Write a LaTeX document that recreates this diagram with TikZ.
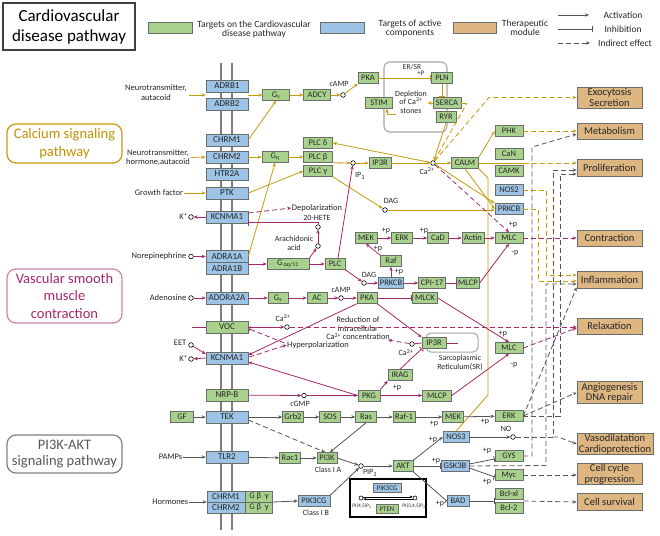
\documentclass[tikz,border=0pt]{standalone}
\usepackage{fontspec}
\setmainfont{Carlito}
\usetikzlibrary{arrows.meta,calc}
\definecolor{gfill}{RGB}{169,209,142}
\definecolor{bfill}{RGB}{157,195,230}
\definecolor{tfill}{RGB}{221,182,130}
\definecolor{bord}{RGB}{105,110,105}
\definecolor{gold}{RGB}{200,155,10}
\definecolor{goldt}{RGB}{195,145,0}
\definecolor{purp}{RGB}{165,40,105}
\definecolor{purl}{RGB}{205,130,180}
\definecolor{gline}{RGB}{85,85,85}
\definecolor{memb}{RGB}{125,125,125}
\tikzset{
  bx/.style={draw=bord, line width=0.6pt, minimum height=11pt, inner xsep=1.5pt, inner ysep=0pt, text=black!85, font=\fontsize{8.5}{9}\selectfont},
  gb/.style={bx, fill=gfill},
  bb/.style={bx, fill=bfill},
  rec/.style={bx, fill=bfill, minimum width=42pt, minimum height=12pt, font=\fontsize{9}{10}\selectfont},
  tb/.style={draw=bord, fill=tfill, line width=0.7pt, minimum width=65pt, align=center, text=black!85, font=\fontsize{10.5}{10.5}\selectfont, inner sep=1pt},
  lbl/.style={font=\fontsize{8}{9}\selectfont, inner sep=0.5pt, align=center, text=black!85},
  lbm/.style={lbl, font=\fontsize{8.5}{9.5}\selectfont},
  circ/.style={circle, draw=black, fill=white, line width=0.6pt, minimum size=4.6pt, inner sep=0pt},
  ga/.style={draw=gold, line width=0.8pt, -{Stealth[length=4pt,width=3.4pt]}},
  gl/.style={draw=gold, line width=0.8pt},
  ginh/.style={draw=gold, line width=0.8pt, -{Bar[width=6pt]}},
  gd/.style={ga, dash pattern=on 5pt off 3pt},
  gdl/.style={gl, dash pattern=on 5pt off 3pt},
  pa/.style={draw=purp, line width=0.8pt, -{Stealth[length=4pt,width=3.4pt]}},
  pl/.style={draw=purp, line width=0.8pt},
  pinh/.style={draw=purp, line width=0.8pt, -{Bar[width=6pt]}},
  pd/.style={pa, dash pattern=on 5pt off 3pt},
  pdi/.style={pinh, dash pattern=on 5pt off 3pt},
  ka/.style={draw=gline, line width=0.8pt, -{Stealth[length=4pt,width=3.4pt]}},
  kl/.style={draw=gline, line width=0.8pt},
  kinh/.style={draw=gline, line width=0.8pt, -{Bar[width=6pt]}},
  kd/.style={ka, dash pattern=on 5pt off 3pt},
  side/.style={line width=1.2pt, rounded corners=9pt, minimum width=115pt, align=center, font=\fontsize{14.5}{17.5}\selectfont}
}
\begin{document}
\begin{tikzpicture}[x=1pt,y=-1pt]
\useasboundingbox (0,0) rectangle (660,535);
\fill[white] (0,0) rectangle (660,535);

% ---------- title and legend
\node[draw=black!75, line width=1.2pt, minimum width=132pt, minimum height=47pt, align=center, font=\fontsize{17}{20}\selectfont] (title) at (69,26.5) {Cardiovascular\\disease pathway};
\node[gb, minimum width=44pt] (lg) at (170,28) {};
\node[lbl, font=\fontsize{9.5}{9}\selectfont] (lgt) at (254,29) {Targets on the Cardiovascular\\disease pathway};
\node[bb, minimum width=44pt] (lb) at (342,28) {};
\node[lbl, font=\fontsize{9.5}{9}\selectfont] (lbt) at (410,28.5) {Targets of active\\components};
\node[tb, minimum width=43pt, minimum height=11pt] (lt) at (474.5,27.5) {};
\node[lbl, font=\fontsize{9.5}{9}\selectfont] (ltt) at (525,27.5) {Therapeutic\\module};
\coordinate (l1a) at (558,15); \coordinate (l1b) at (589,15);
\coordinate (l2a) at (558,29); \coordinate (l2b) at (593,29);
\coordinate (l3a) at (558,43); \coordinate (l3b) at (590,43);
\draw[ka] (l1a) -- (l1b);
\draw[kinh] (l2a) -- (l2b);
\draw[kd] (l3a) -- (l3b);
\node[lbl, font=\fontsize{9.5}{10}\selectfont] (lact) at (623,15) {Activation};
\node[lbl, font=\fontsize{9.5}{10}\selectfont] (linh) at (623,29) {Inhibition};
\node[lbl, font=\fontsize{9.5}{10}\selectfont] (lind) at (625,43) {Indirect effect};

% ---------- side labels
\node[side, draw=gold, text=goldt, minimum height=39pt] (calcium) at (64.5,143.5) {Calcium signaling\\pathway};
\node[side, draw=purl, text=purp, minimum height=54pt] (vsm) at (64.5,296) {Vascular smooth\\muscle\\contraction};
\node[side, draw=gray, text=black!65, minimum height=38pt, font=\fontsize{14.5}{16}\selectfont] (pi3kl) at (64.5,454) {PI3K-AKT\\signaling pathway};

% ---------- membrane
\draw[memb, line width=2.5pt] (221,63) -- (221,530);
\draw[memb, line width=2.5pt] (232,63) -- (232,530);

% ---------- receptors
\node[rec] (adrb1) at (227,86) {ADRB1};
\node[rec] (adrb2) at (227,104) {ADRB2};
\node[rec] (chrm1) at (227,140) {CHRM1};
\node[rec] (chrm2) at (227,157) {CHRM2};
\node[rec] (htr2a) at (227,174) {HTR2A};
\node[rec] (ptk) at (227,193) {PTK};
\node[rec] (kcn1) at (227,217) {KCNMA1};
\node[rec] (adra1a) at (227,256.5) {ADRA1A};
\node[rec] (adra1b) at (227,268.5) {ADRA1B};
\node[rec] (adora) at (227,298) {ADORA2A};
\node[rec, fill=gfill] (voc) at (227,327) {VOC};
\node[rec] (kcn2) at (227,358) {KCNMA1};
\node[rec, fill=gfill] (nrpb) at (227,395) {NRP-B};
\node[rec] (tek) at (227,417) {TEK};
\node[rec] (tlr2) at (227,457) {TLR2};
\node[rec, minimum width=38pt, minimum height=11pt] (chrm1b) at (226,496.5) {CHRM1};
\node[rec, minimum width=38pt, minimum height=11pt] (chrm2b) at (226,507.5) {CHRM2};
\node[gb, minimum width=27pt] (gbg1) at (259,496.5) {G β\ \ γ};
\node[gb, minimum width=27pt] (gbg2) at (259,507.5) {G β\ \ γ};

% ---------- left inputs
\node[lbm] (ntA) at (156,92.5) {Neurotransmitter,\\autacoid};
\coordinate (ntAe) at (189,95);
\node[lbm] (ntB) at (158,157.5) {Neurotransmitter,\\hormone,autacoid};
\node[lbm] (gf1) at (159,193) {Growth factor};
\node[circ] (kc1) at (191,217) {};
\node[lbm, anchor=east] (k1) at (188,216) {K\textsuperscript{+}};
\node[circ] (nec) at (191,256.5) {};
\node[lbm, anchor=east] (ne) at (187,256) {Norepinephrine};
\node[circ] (adc) at (191,298) {};
\node[lbm, anchor=east] (ade) at (187,298) {Adenosine};
\coordinate (vocl) at (192,327);
\node[circ] (eetc) at (191,345) {};
\node[lbm, anchor=east] (eet) at (187,343) {EET};
\node[circ] (kc2) at (191,359) {};
\node[lbm, anchor=east] (k2) at (188,358) {K\textsuperscript{+}};
\node[gb, minimum width=23pt] (gfb) at (182,417) {GF};
\node[lbm, anchor=east] (pamps) at (183,457) {PAMPs};
\node[lbm, anchor=east] (horm) at (189,502) {Hormones};

% ---------- therapeutic modules
\node[tb, minimum height=21pt] (exo) at (609.5,97.5) {Exocytosis\\Secretion};
\node[tb, minimum height=16pt] (metab) at (609.5,131) {Metabolism};
\node[tb, minimum height=17pt] (prolif) at (609.5,167.5) {Proliferation};
\node[tb, minimum height=16pt] (contr) at (609.5,238) {Contraction};
\node[tb, minimum height=17pt] (inflam) at (609.5,280) {Inflammation};
\node[tb, minimum height=16pt] (relax) at (609.5,326) {Relaxation};
\node[tb, minimum height=22pt] (angio) at (609.5,392.5) {Angiogenesis\\DNA repair};
\node[tb, minimum width=76pt, minimum height=21pt] (vaso) at (615,444) {Vasodilatation\\Cardioprotection};
\node[tb, minimum height=21pt] (ccyc) at (609.5,474) {Cell cycle\\progression};
\node[tb, minimum height=17pt] (surv) at (609.5,502) {Cell survival};

% ---------- calcium signalling (top)
\node[draw=gray!70, line width=1.1pt, rounded corners=6pt, minimum width=63pt, minimum height=70pt] (er) at (415.5,97) {};
\node[gb, minimum width=27pt] (gs1) at (276,95) {G\textsubscript{s}};
\node[gb, minimum width=27pt] (adcy) at (317,95) {ADCY};
\node[circ] (camp1) at (343,95) {};
\node[lbl] (camp1l) at (339,84) {cAMP};
\node[gb, minimum width=20pt] (pka1) at (368,78) {PKA};
\node[gb, minimum width=21pt] (pln) at (442,78) {PLN};
\node[gb, minimum width=28pt] (serca) at (447,103) {SERCA};
\node[gb, minimum width=20pt] (ryr) at (446,117) {RYR};
\node[gb, minimum width=27pt] (stim) at (379,103) {STIM};
\node[lbl, font=\fontsize{7.5}{8}\selectfont] (erl) at (412,67) {ER/SR};
\node[lbl, font=\fontsize{7}{8}\selectfont] (pp0) at (421,73) {+P};
\node[lbl, font=\fontsize{8}{8.5}\selectfont] (depl) at (411,102) {Depletion\\of Ca\textsuperscript{2+}\\stones};
\coordinate (st0) at (396,114);
\coordinate (st1) at (387,114);

\node[gb, minimum width=29pt] (plcd) at (318,143) {PLC δ};
\node[gb, minimum width=29pt] (plcb) at (318,157) {PLC β};
\node[gb, minimum width=29pt] (plcg) at (318,171) {PLC γ};
\node[gb, minimum width=26pt] (gq) at (275,157) {G\textsubscript{q}};
\node[circ] (ip3c) at (353,163) {};
\node[lbl] (ip3l) at (360,176) {IP\textsubscript{3}};
\node[gb, minimum width=22pt] (ip3r1) at (380,163) {IP3R};
\node[circ] (ca1) at (433,163) {};
\node[lbl] (ca1l) at (427,171) {Ca\textsuperscript{2+}};
\node[gb, minimum width=27pt] (calm) at (465,163) {CALM};
\node[gb, minimum width=28pt] (phk) at (509,131) {PHK};
\node[gb, minimum width=28pt] (can) at (509,154) {CaN};
\node[gb, minimum width=28pt] (camk) at (509,171) {CAMK};
\node[bb, minimum width=28pt] (nos2) at (509,190) {NOS2};
\node[bb, minimum width=28pt] (prkcb1) at (509,209) {PRKCB};
\node[circ] (dag1) at (385,210) {};
\node[lbl] (dag1l) at (391,201) {DAG};

% ---------- vascular smooth muscle
\node[lbm] (depol) at (317,208) {Depolarization};
\node[circ] (hete) at (318,227) {};
\node[lbl] (hetel) at (317,217.5) {20-HETE};
\node[circ] (aa) at (318,246) {};
\node[lbl] (aal) at (294,243.5) {Arachidonic\\acid};
\node[gb, minimum width=42pt] (gq11) at (288,264) {G\textsubscript{\,αq/11}};
\node[gb, minimum width=20pt] (plc) at (335,264) {PLC};
\node[circ] (dag2) at (364,283) {};
\node[lbl] (dag2l) at (369,274.5) {DAG};
\node[bb, minimum width=25pt] (prkcb2) at (391,283) {PRKCB};
\node[gb, minimum width=21pt] (raf) at (391,261) {Raf};
\node[gb, minimum width=22pt] (mek1) at (366,238) {MEK};
\node[gb, minimum width=21pt] (erk1) at (402,238) {ERK};
\node[gb, minimum width=21pt] (cad) at (438,238) {CaD};
\node[gb, minimum width=22pt] (actin) at (473,238) {Actin};
\node[gb, minimum width=28pt] (mlc1) at (509,238) {MLC};
\node[gb, minimum width=27pt] (cpi) at (432,283) {CPI-17};
\node[gb, minimum width=21pt] (mlcp1) at (468,283) {MLCP};
\node[lbl] (p1) at (399,272) {+p};
\node[lbl] (p2) at (378,248.5) {+p};
\node[lbl] (p3) at (386,230.5) {+p};
\node[lbl] (p4) at (424,230.5) {+p};
\node[lbl] (p5) at (513,225) {+p};
\node[lbl] (p6) at (515,253) {-p};

\node[gb, minimum width=20pt] (gs2) at (278,298) {G\textsubscript{s}};
\node[gb, minimum width=20pt] (ac) at (317,298) {AC};
\node[circ] (camp2) at (341,298) {};
\node[lbl] (camp2l) at (341,290) {cAMP};
\node[gb, minimum width=20pt] (pka2) at (367,298) {PKA};
\node[gb, minimum width=25pt] (mlck) at (425,298) {MLCK};
\node[circ] (ca3) at (287,327) {};
\node[lbl] (ca3l) at (283,318) {Ca\textsuperscript{2+}};
\node[lbl, font=\fontsize{8.3}{8.5}\selectfont] (redu) at (358,328.5) {Reduction of\\intracellular\\Ca\textsuperscript{2+} concentration};
\node[lbm] (hyper) at (318,345) {Hyperpolarization};
\node[draw=gray!70, line width=1pt, rounded corners=5pt, minimum width=52pt, minimum height=19pt] (sr) at (452,342.5) {};
\node[gb, minimum width=24pt] (ip3r2) at (434,343) {IP3R};
\node[lbl] (srl) at (460,362.5) {Sarcoplasmic\\Reticulum(SR)};
\coordinate (ip3rR) at (458,343);
\node[circ] (ca4) at (412,344) {};
\node[lbl] (ca4l) at (406,352.5) {Ca\textsuperscript{2+}};
\coordinate (ca4t) at (388,340);
\node[gb, minimum width=28pt] (mlc2) at (509,348) {MLC};
\node[lbl] (p7) at (503,334) {+p};
\node[lbl] (p8) at (514,365) {-p};
\node[gb, minimum width=24pt] (irag) at (400,375) {IRAG};
\node[gb, minimum width=22pt] (pkg) at (369,395.5) {PKG};
\node[lbl] (p9) at (397,388) {+p};
\node[circ] (cgmp) at (304,395.5) {};
\node[lbl] (cgmpl) at (300,404) {cGMP};
\node[gb, minimum width=29pt] (mlcp2) at (437,395.5) {MLCP};

% ---------- PI3K-AKT
\node[gb, minimum width=21pt] (grb2) at (293,417) {Grb2};
\node[gb, minimum width=21pt] (sos) at (330,417) {SOS};
\node[gb, minimum width=21pt] (ras) at (366,417) {Ras};
\node[gb, minimum width=22pt] (raf1) at (404,417) {Raf-1};
\node[gb, minimum width=21pt] (mek2) at (453,417) {MEK};
\node[gb, minimum width=28pt] (erk2) at (509,416) {ERK};
\node[lbl] (p10) at (434,424) {+p};
\node[lbl] (p11) at (485,422) {+p};
\node[gb, minimum width=21pt] (rac1) at (290,458) {Rac1};
\node[gb, minimum width=20pt] (pi3k) at (327,458) {PI3K};
\node[lbl] (cia) at (328,470) {Class I A};
\node[circ] (pip3) at (361,466) {};
\node[lbl] (pip3l) at (370,473) {PIP\textsubscript{3}};
\node[gb, minimum width=20pt] (akt) at (403,466) {AKT};
\node[bb, minimum width=32pt] (pik3cg) at (314,501) {PIK3CG};
\node[lbl] (cib) at (316,513) {Class I B};
\node[draw=black, line width=1.1pt, minimum width=76pt, minimum height=38pt] (inset) at (388,498) {};
\node[bb, minimum width=28pt, minimum height=9pt, font=\fontsize{7}{7}\selectfont] (pikin) at (387,488) {PIK3CG};
\node[circ, minimum size=4pt] (pi45) at (361,498) {};
\node[circ, minimum size=4pt] (pi345) at (415,498) {};
\node[lbl, font=\fontsize{5.3}{6}\selectfont] (pi45l) at (362,506) {PI(4,5)P\textsubscript{2}};
\node[lbl, font=\fontsize{5.3}{6}\selectfont] (pi345l) at (414,506) {PI(3,4,5)P\textsubscript{3}};
\node[gb, minimum width=22pt, minimum height=9pt, font=\fontsize{7}{7}\selectfont] (pten) at (387,509) {PTEN};
\node[bb, minimum width=26pt] (nos3) at (456,437) {NOS3};
\node[bb, minimum width=28pt] (gsk3b) at (455,466) {GSK3B};
\node[bb, minimum width=22pt] (bad) at (458,501) {BAD};
\node[lbl] (p12) at (433,440) {+p};
\node[lbl] (p13) at (436,461) {+p};
\node[lbl] (p14) at (440,504) {+p};
\node[circ] (noc) at (513,437) {};
\node[lbl] (nol) at (506,429) {NO};
\node[gb, minimum width=28pt] (gys) at (509,456) {GYS};
\node[gb, minimum width=28pt] (myc) at (509,475) {Myc};
\node[gb, minimum width=28pt] (bclxl) at (509,494) {Bcl-xl};
\node[gb, minimum width=28pt] (bcl2) at (509,508) {Bcl-2};
\node[lbl] (p15) at (487,451) {+p};
\node[lbl] (p16) at (487,482) {+p};
\coordinate (bclm) at (495,501);

% ================= connectors
% left inputs
\draw[ga] (ntAe) -- (ntAe -| adrb1.west);
\draw[ga] (ntB.east) -- (chrm2.west);
\draw[ga] (gf1.east) -- (ptk.west);
\draw[pa] (kcn1.west) -- (kc1);
\draw[pa] (nec) -- (adra1a.west);
\draw[pa] (adc) -- (adora.west);
\draw[pl] (vocl) -- (voc.west);
\draw[pa] (eetc) -- ($(kcn2.west)+(0,-4)$);
\draw[pa] (kcn2.west) -- (kc2);
\draw[ka] (gfb) -- (tek);
\draw[ka] (pamps.east) -- (tlr2.west);
\draw[ka] (horm.east) -- (horm.east -| chrm1b.west);

% calcium top
\coordinate (adrbR) at (248,95);
\draw[ga] (adrbR) -- (gs1.west);
\draw[ga] (chrm1.east) -- (gs1.south);
\draw[ga] (gs1) -- (adcy);
\draw[ga] (adcy) -- (camp1);
\draw[ga] (camp1) -- (pka1.south west);
\draw[ginh] (pka1) -- (pln);
\draw[ginh] (pln.south) -- (pln.south |- serca.north);
\draw[ga] (serca.west) -- ++(-5,0);
\draw[ga] (st0) -- (st1) -- (st1 |- stim.south);
\draw[ga] (ryr.south) -- (ca1);
\coordinate (sercaR) at (467,103);
\draw[gl] (serca.east) -- (sercaR);
\draw[gdl] (ca1) -- (sercaR);
\coordinate (exoC) at (489,97.5);
\draw[gd] (ca1) -- (exoC) -- (exo.west);

\draw[ga] (chrm2) -- (gq);
\draw[ga] (gq) -- (plcb);
\draw[ga] (adra1a.east) -- (gq.south);
\draw[ga] (ptk.east) -- (plcg.west);
\draw[ga] (plcb.south east) -- (ip3c);
\draw[ga] (ip3c) -- (ip3r1);
\draw[ga] (ip3r1) -- (ca1);
\draw[ga] (ca1) -- (plcd.east);
\draw[ga] (ca1) -- (calm);
\draw[ga] (calm.north east) -- (phk.west);
\draw[gd] (phk) -- (metab);
\coordinate (calmR) at (524,163);
\draw[gl] (calm.east) -- (calmR);
\draw[gd] (calmR) -- (calmR -| prolif.west);
\coordinate (calmD) at (488,178);
\coordinate (calmD2) at (488,395);
\draw[gl] (calm.south east) -- (calmD) -- (calmD2) -- (nos3.north);
\draw[ga] (calm.south) -- (prkcb1.west);
\draw[ga] (ca1) -- (prkcb1.north west);
\draw[ga] (plcg.south east) -- (dag1);
\draw[ga] (dag1) -- (dag1 -| prkcb1.west);
\coordinate (n2a) at (546,190); \coordinate (n2b) at (546,275);
\draw[gd] (nos2.east) -- (n2a) -- (n2b) -- (n2b -| inflam.west);
\coordinate (k1a) at (538,209); \coordinate (k1b) at (538,281);
\draw[gd] (prkcb1.east) -- (k1a) -- (k1b) -- (k1b -| inflam.west);

% vascular smooth muscle
\draw[pd] ($(kcn1.east)+(0,-4)$) -- (depol.west);
\draw[pinh] (hete.north) |- ($(kcn1.east)+(0,5.5)$);
\draw[pa] (aa) -- (hete);
\draw[pa] (248,264) -- (gq11.west);
\draw[pa] (gq11.north east) -- (aa);
\draw[pa] (gq11) -- (plc);
\draw[pa] ($(plc.north)+(3,0)$) -- (ip3c);
\draw[pa] (plc.south east) -- (dag2);
\draw[pa] (dag2) -- (prkcb2);
\draw[pa] (prkcb2) -- (raf);
\draw[pa] (raf.north west) -- (mek1.south);
\draw[pa] (mek1) -- (erk1);
\draw[pa] (erk1) -- (cad);
\draw[pa] (cad) -- (actin);
\draw[pa] (actin) -- (mlc1);
\draw[pd] (ca1) -- (mlc1.north);
\draw[pd] (mlc1) -- (mlc1 -| contr.west);
\draw[pa] (prkcb2) -- (cpi);
\draw[pinh] (cpi) -- (mlcp1);
\draw[pa] (mlcp1.east) -- (mlc1.south);

\draw[pa] (adora) -- (gs2);
\draw[pa] (gs2) -- (ac);
\draw[pa] (ac) -- (camp2);
\draw[pa] (camp2) -- (pka2);
\draw[pinh] (pka2) -- (mlck);
\draw[pa] (mlck.east) -- (mlc2.north);
\draw[pa] (pka2.south east) -- (ip3r2.north west);
\draw[pa] (pka2.south west) -- ($(kcn2.east)+(0,-3)$);
\draw[pa] (voc) -- (ca3);
\draw[pd, draw=purp] (ca3) -- (ca3 -| relax.west);
\draw[pdi] ($(hyper.west)+(-2,-2)$) -- ($(voc.east)+(1,2)$);
\draw[pd] ($(kcn2.east)+(1,-1)$) -- (hyper.west);
\draw[pl] (ip3r2.east) -- (ip3rR);
\draw[pl] (ip3r2.west) -- (ca4);
\draw[pd] (ca4) -- (ca4t);
\draw[pa] (pkg.north east) -- (irag.south west);
\draw[pinh] (irag.north) -- (ip3r2.south west);
\draw[pa] (nrpb) -- (cgmp);
\draw[pa] (cgmp) -- (pkg);
\draw[pa] (pkg.west) -- ($(kcn2.east)+(0,4)$);
\draw[pa] (pkg) -- (mlcp2);
\draw[pa] (mlcp2.east) -- (mlc2.south);
\draw[pd] (mlc2.east) -- ($(relax.west)+(0,2)$);

% PI3K-AKT
\draw[ka] (tek) -- (grb2);
\draw[ka] (grb2) -- (sos);
\draw[ka] (sos) -- (ras);
\draw[ka] (ras) -- (raf1);
\draw[ka] (raf1) -- (mek2);
\draw[ka] (mek2) -- (erk2);
\draw[kd] ($(tek.east)+(0,3)$) -- ($(pi3k.north)+(-2,0)$);
\draw[ka] (ras.south) -- ($(pi3k.north)+(3,0)$);
\draw[ka] (tlr2) -- (rac1);
\draw[ka] (rac1) -- (pi3k);
\draw[ka] (pi3k.east) -- (pip3);
\draw[ka] (pip3) -- (akt);
\draw[ka] ($(gbg1.east)!0.5!(gbg2.east)$) -- (pik3cg.west);
\draw[ka] (pik3cg.north east) -- (pip3);
\draw[line width=0.6pt, -{Stealth[length=3pt,width=2.5pt]}] ($(pi45.east)+(0,-1.2)$) -- ($(pi345.west)+(0,-1.2)$);
\draw[line width=0.6pt, -{Stealth[length=3pt,width=2.5pt]}] ($(pi345.west)+(0,1.2)$) -- ($(pi45.east)+(0,1.2)$);
\draw[ka] (akt.north east) -- (nos3.west);
\draw[kinh] (akt.east) -- (gsk3b.west);
\draw[kinh] (akt.south east) -- (bad.west);
\draw[ka] (nos3) -- (noc);
\draw[kinh] ($(gsk3b.east)+(0,-2)$) -- ($(gys.west)+(0,3)$);
\draw[kinh] ($(gsk3b.east)+(0,2)$) -- ($(myc.west)+(0,2)$);
\draw[kinh] (bad.east) -- (bclm);
\draw[kd] (myc.east) -- (myc.east -| ccyc.west);
\draw[kd] ($(bclxl.east)!0.5!(bcl2.east)$) -- (surv.west);

% gray indirect effects to modules
\coordinate (gy1) at (532,456); \coordinate (gy2) at (532,147);
\draw[kd] (gys.east) -- (gy1) -- (gy2) -- ($(metab.west)+(0,3)$);
\coordinate (gk1) at (546,465.5); \coordinate (gk2) at (546,284);
\draw[kd] (gsk3b.east) -- (gk1) -- (gk2) -- (gk2 -| inflam.west);
\coordinate (no1) at (553,437); \coordinate (no2) at (553,170);
\draw[kd] (noc) -- (no1) -- (no2) -- (no2 -| prolif.west);
\coordinate (no3) at (558,437);
\draw[kd] (no1) -- (no3) -- (vaso.west);
\coordinate (er1) at (560,416); \coordinate (er2) at (560,174);
\draw[kd] (erk2.east) -- (er1) -- (er2) -- (er2 -| prolif.west);
\draw[kd] (erk2.east) -- ($(inflam.south west)+(0,-1.5)$);
\draw[kd] (erk2.east) -- (angio.west);
\end{tikzpicture}
\end{document}
